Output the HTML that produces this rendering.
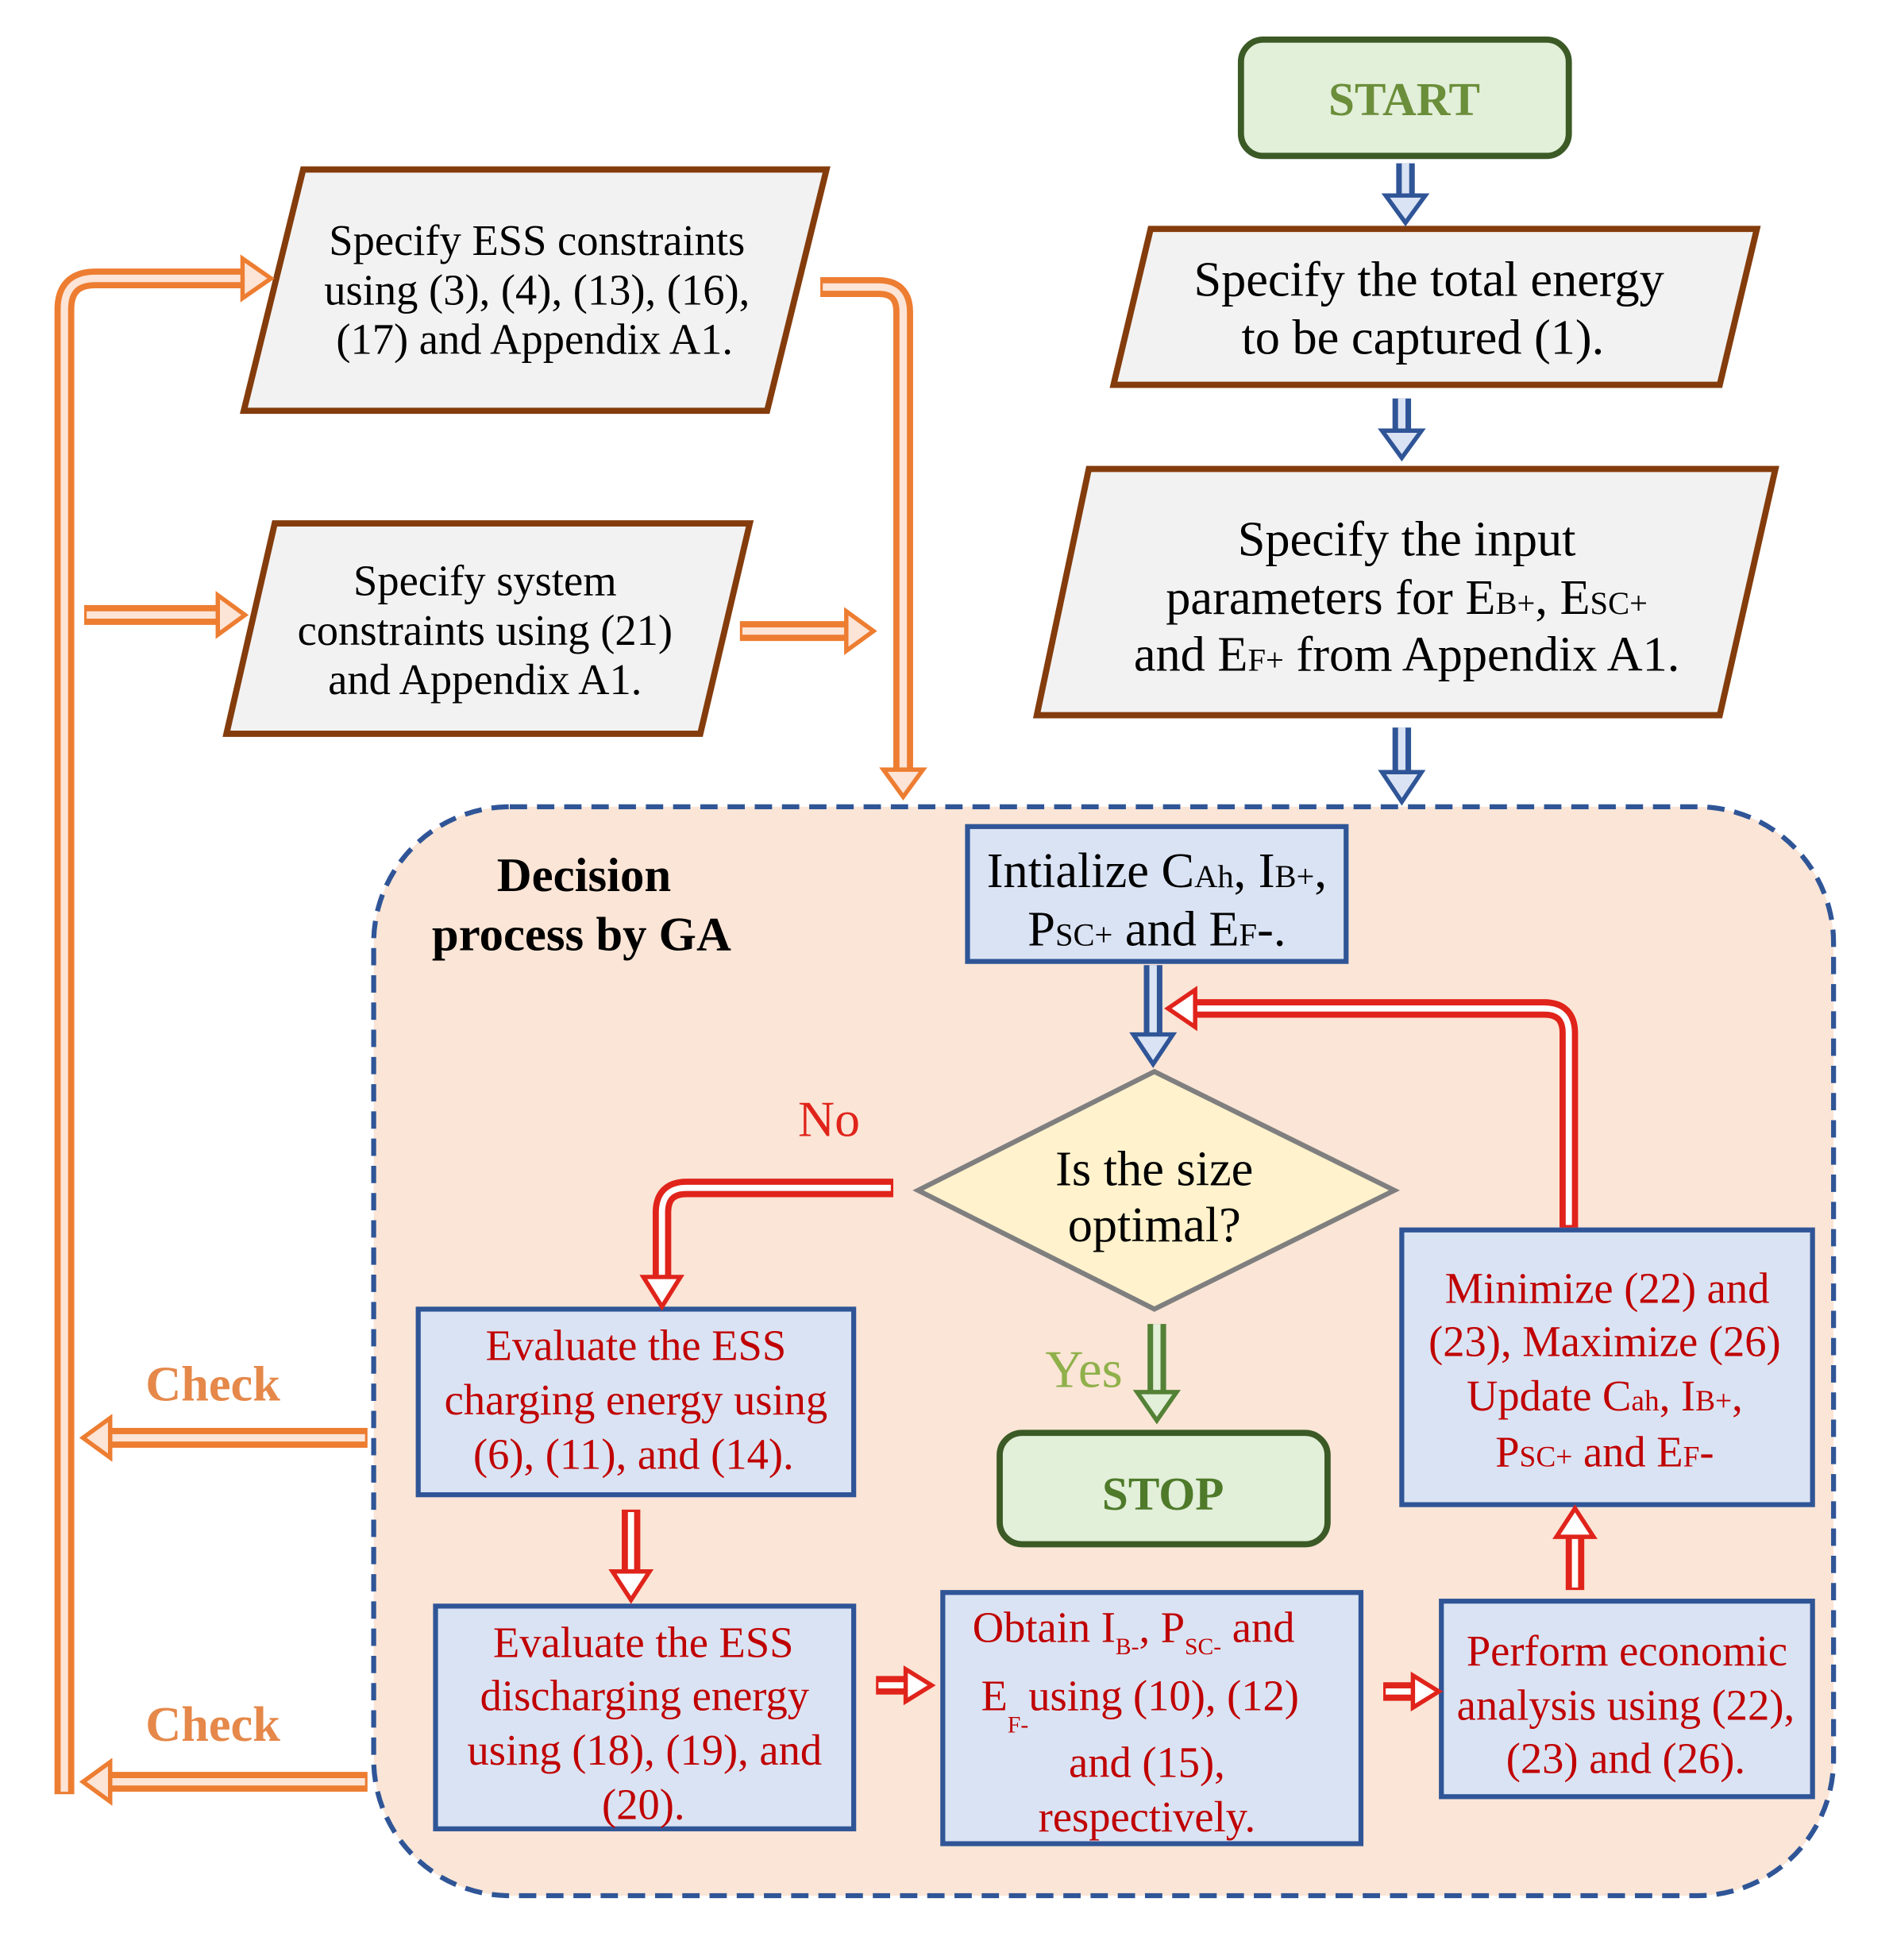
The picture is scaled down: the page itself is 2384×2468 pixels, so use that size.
<!DOCTYPE html>
<html><head><meta charset="utf-8"><style>
html,body{margin:0;padding:0;background:#fff}
svg{display:block}
text{font-family:"Liberation Serif",serif}
</style></head><body>
<svg width="2384" height="2468" viewBox="0 0 1530 1584" xmlns="http://www.w3.org/2000/svg">
<rect width="1530" height="1584" fill="#fff"/>
<rect x="302" y="652" width="1180" height="880" rx="110" fill="#fbe5d6" stroke="#2f5597" stroke-width="4" stroke-dasharray="14 8"/>

<rect x="1003" y="32" width="265" height="94" rx="18" fill="#e2efd9" stroke="#3b5a25" stroke-width="5"/>
<text x="1135" y="93" font-size="38" font-weight="bold" fill="#6b8e3a" text-anchor="middle">START</text>

<polygon points="930,185 1420,185 1390,311 900,311" fill="#f2f2f2" stroke="#843c0c" stroke-width="5"/>
<text font-size="40" text-anchor="middle" fill="#000"><tspan x="1155" y="239">Specify the total energy</tspan><tspan x="1150" y="286">to be captured (1).</tspan></text>

<polygon points="880,379 1435,379 1390,578 838,578" fill="#f2f2f2" stroke="#843c0c" stroke-width="5"/>
<text font-size="40" text-anchor="middle" fill="#000"><tspan x="1137" y="449">Specify the input</tspan><tspan x="1137" y="496">parameters for E<tspan font-size="26">B+</tspan>, E<tspan font-size="26">SC+</tspan></tspan><tspan x="1137" y="542">and E<tspan font-size="26">F+</tspan> from Appendix A1.</tspan></text>

<polygon points="245,137 668,137 620,332 197,332" fill="#f2f2f2" stroke="#843c0c" stroke-width="5"/>
<text font-size="35" text-anchor="middle" fill="#000"><tspan x="434" y="206">Specify ESS constraints</tspan><tspan x="434" y="246">using (3), (4), (13), (16),</tspan><tspan x="432" y="286">(17) and Appendix A1.</tspan></text>

<polygon points="222,423 606,423 566,593 183,593" fill="#f2f2f2" stroke="#843c0c" stroke-width="5"/>
<text font-size="35" text-anchor="middle" fill="#000"><tspan x="392" y="481">Specify system</tspan><tspan x="392" y="521">constraints using (21)</tspan><tspan x="392" y="561">and Appendix A1.</tspan></text>

<text font-size="39" font-weight="bold" text-anchor="middle" fill="#000"><tspan x="472" y="720">Decision</tspan><tspan x="470" y="768">process by GA</tspan></text>

<rect x="782" y="668" width="306" height="109" fill="#dae3f3" stroke="#2f5597" stroke-width="4"/>
<text font-size="40" text-anchor="middle" fill="#000"><tspan x="935" y="717">Intialize C<tspan font-size="26">Ah</tspan>, I<tspan font-size="26">B+</tspan>,</tspan><tspan x="935" y="764">P<tspan font-size="26">SC+</tspan> and E<tspan font-size="26">F</tspan>-.</tspan></text>

<polygon points="933,866 1127,962 933,1058 742,962" fill="#fff2cc" stroke="#7f7f7f" stroke-width="4"/>
<text font-size="40" text-anchor="middle" fill="#000"><tspan x="933" y="958">Is the size</tspan><tspan x="933" y="1003">optimal?</tspan></text>

<text x="670" y="918" font-size="41" fill="#e0241b" text-anchor="middle">No</text>
<text x="876" y="1121" font-size="43" fill="#8fb04a" text-anchor="middle">Yes</text>
<text x="172" y="1132" font-size="40" font-weight="bold" fill="#e5884a" text-anchor="middle">Check</text>
<text x="172" y="1407" font-size="40" font-weight="bold" fill="#e5884a" text-anchor="middle">Check</text>

<rect x="808" y="1158" width="265" height="90" rx="18" fill="#e2efd9" stroke="#3b5a25" stroke-width="5"/>
<text x="940" y="1220" font-size="38" font-weight="bold" fill="#4e7a2a" text-anchor="middle">STOP</text>

<g fill="#dae3f3" stroke="#2f5597" stroke-width="4">
<rect x="338" y="1058" width="352" height="150"/>
<rect x="1133" y="994" width="332" height="222"/>
<rect x="352" y="1298" width="338" height="180"/>
<rect x="762" y="1287" width="338" height="203"/>
<rect x="1165" y="1294" width="300" height="158"/>
</g>
<g font-size="35" fill="#c00000" text-anchor="middle">
<text><tspan x="514" y="1099">Evaluate  the ESS</tspan><tspan x="514" y="1143">charging  energy  using</tspan><tspan x="512" y="1187">(6), (11), and (14).</tspan></text>
<text><tspan x="1299" y="1053">Minimize  (22) and</tspan><tspan x="1297" y="1096">(23), Maximize  (26)</tspan><tspan x="1297" y="1140">Update C<tspan font-size="24">ah</tspan>, I<tspan font-size="24">B+</tspan>,</tspan><tspan x="1297" y="1185">P<tspan font-size="24">SC+</tspan> and E<tspan font-size="24">F</tspan>-</tspan></text>
<text><tspan x="520" y="1339">Evaluate  the ESS</tspan><tspan x="521" y="1382">discharging  energy</tspan><tspan x="521" y="1426">using (18), (19), and</tspan><tspan x="520" y="1470">(20).</tspan></text>
<text><tspan x="786" y="1327" text-anchor="start">Obtain  I<tspan font-size="19" dy="10">B-</tspan><tspan dy="-10">, P</tspan><tspan font-size="19" dy="10">SC-</tspan><tspan dy="-10">  and</tspan></tspan><tspan x="793" y="1382" text-anchor="start">E<tspan font-size="19" dy="18">F-</tspan><tspan dy="-18">using  (10), (12)</tspan></tspan><tspan x="927" y="1436">and (15),</tspan><tspan x="927" y="1480">respectively.</tspan></text>
<text><tspan x="1315" y="1346">Perform  economic</tspan><tspan x="1314" y="1390">analysis  using (22),</tspan><tspan x="1314" y="1433">(23)  and  (26).</tspan></text>
</g>

<g fill="none">
<path d="M1136 132 V158 M1133 322 V348 M1133 588 V624 M932 780 V836" stroke="#2f5597" stroke-width="15"/>
<path d="M1136 132 V160 M1133 322 V350 M1133 588 V626 M932 780 V838" stroke="#dae3f3" stroke-width="6"/>
</g>
<g fill="#dae3f3" stroke="#2f5597" stroke-width="3.5">
<polygon points="1120,158 1152,158 1136,180"/>
<polygon points="1117,348 1149,348 1133,370"/>
<polygon points="1117,624 1149,624 1133,648"/>
<polygon points="916,836 948,836 932,860"/>
</g>
<path d="M935 1070 V1125" stroke="#538135" stroke-width="15" fill="none"/>
<path d="M935 1070 V1127" stroke="#e2efd9" stroke-width="6" fill="none"/>
<polygon points="919,1125 951,1125 935,1148" fill="#e2efd9" stroke="#538135" stroke-width="3.5"/>
<g fill="none">
<path d="M52 1450 V250 Q52 225 77 225 H196 M663 232 H710 Q730 232 730 252 V622 M68 497 H176 M598 510 H684 M297 1162 H89 M297 1440 H89" stroke="#ed7d31" stroke-width="16"/>
<path d="M52 1448 V250 Q52 225 77 225 H198 M665 232 H710 Q730 232 730 252 V624 M70 497 H178 M600 510 H686 M295 1162 H87 M295 1440 H87" stroke="#fce4d6" stroke-width="6"/>
</g>
<g fill="#fce4d6" stroke="#ed7d31" stroke-width="3.5">
<polygon points="196,209 196,241 219,225"/>
<polygon points="714,622 746,622 730,644"/>
<polygon points="176,481 176,513 198,497"/>
<polygon points="684,494 684,526 706,510"/>
<polygon points="89,1146 89,1178 67,1162"/>
<polygon points="89,1424 89,1456 67,1440"/>
</g>
<g fill="none">
<path d="M1268 992 V835 Q1268 815 1248 815 H966 M722 960 H555 Q535 960 535 980 V1032 M510 1220 V1270 M708 1362 H732 M1118 1367 H1142 M1273 1285 V1242" stroke="#e0241b" stroke-width="15"/>
<path d="M1268 990 V835 Q1268 815 1248 815 H964 M720 960 H555 Q535 960 535 980 V1034 M510 1222 V1272 M710 1362 H734 M1120 1367 H1144 M1273 1283 V1240" stroke="#fff" stroke-width="5"/>
</g>
<g fill="#fff" stroke="#e0241b" stroke-width="3.5">
<polygon points="966,800 966,830 944,815"/>
<polygon points="520,1032 550,1032 535,1056"/>
<polygon points="495,1270 525,1270 510,1293"/>
<polygon points="732,1349 732,1375 753,1362"/>
<polygon points="1142,1354 1142,1380 1163,1367"/>
<polygon points="1258,1242 1288,1242 1273,1219"/>
</g>
</svg>
</body></html>
